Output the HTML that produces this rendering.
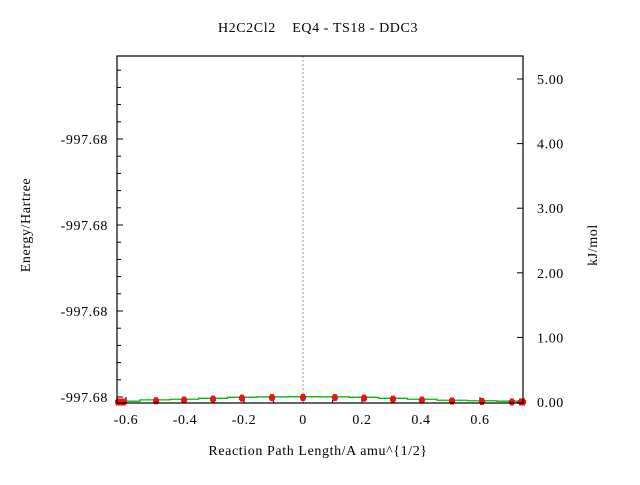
<!DOCTYPE html>
<html><head><meta charset="utf-8"><style>
body{margin:0;background:#fff}
svg text{font-family:"Liberation Serif",serif;font-size:14px;fill:#000;letter-spacing:0.6px}
</style></head><body>
<svg width="640" height="480">
<rect width="640" height="480" fill="#fff"/>
<text x="318" y="32" text-anchor="middle" style="white-space:pre" xml:space="preserve">H2C2Cl2    EQ4 - TS18 - DDC3</text>
<g id="axes"></g>
<g id="marks"></g>
<rect x="117" y="56" width="406" height="347" fill="none" stroke="#000" stroke-width="1.2"/>
<text transform="translate(30,225) rotate(-90)" text-anchor="middle">Energy/Hartree</text>
<text transform="translate(597,245) rotate(-90)" text-anchor="middle">kJ/mol</text>
<text x="318" y="455" text-anchor="middle">Reaction Path Length/A amu^{1/2}</text>
</svg>
<script>
const xs=[-0.627,-0.617,-0.607,-0.498,-0.403,-0.305,-0.207,-0.105,0,0.108,0.207,0.305,0.403,0.505,0.607,0.708,0.739,0.746];
const es=[0,0,0,0.02,0.03,0.045,0.06,0.068,0.07,0.068,0.06,0.045,0.03,0.015,0.007,0,0,0];
const xTicks=[-0.6,-0.4,-0.2,0,0.2,0.4,0.6];
const xTickLabels=["-0.6","-0.4","-0.2","0","0.2","0.4","0.6"];
const y2Ticks=[0,1,2,3,4,5];
const y2Labels=["0.00","1.00","2.00","3.00","4.00","5.00"];
const yLabels=["-997.68","-997.68","-997.68","-997.68"];
const NS="http://www.w3.org/2000/svg";
const X=v=>303+v*295, Y=v=>402-v*64.6;
const ax=document.getElementById('axes'), mk=document.getElementById('marks');
function el(t,a,p){const e=document.createElementNS(NS,t);for(const k in a)e.setAttribute(k,a[k]);p.appendChild(e);return e;}
for(let i=0;i<xTicks.length;i++){
 const x=X(xTicks[i]);
 const l=el('line',{x1:x,x2:x,y1:403,y2:397,stroke:'#000'},ax);
 
 
 const t=el('text',{x:x,y:424,'text-anchor':'middle'},ax);t.textContent=xTickLabels[i];
 
 
}
for(let v=-0.6;v<0.75;v+=0.1){const x=X(v);if(x<118||x>522)continue;el('line',{x1:x,x2:x,y1:403,y2:400,stroke:'#000'},ax);}
for(let i=0;i<20;i++){const y=397-i*17.2;if(y<58)break;el('line',{x1:117,x2:(i%5==0?123:121),y1:y,y2:y,stroke:'#000'},ax);}
for(let i=0;i<yLabels.length;i++){
 const t=el('text',{x:108,y:397-i*86+5,'text-anchor':'end'},ax);t.textContent=yLabels[i];
 
 
}
for(let i=0;i<y2Ticks.length;i++){
 const y=Y(y2Ticks[i]);
 el('line',{x1:523,x2:517,y1:y,y2:y,stroke:'#000'},ax);
 const t=el('text',{x:537,y:y+5},ax);t.textContent=y2Labels[i];
 
 
}
const zl=el('line',{x1:X(0),x2:X(0),y1:56,y2:403,stroke:'#999','stroke-dasharray':'2,2'},ax);


let d='';
for(let i=0;i<xs.length;i++){
 const a=i==0?xs[0]:(xs[i-1]+xs[i])/2, b=i==xs.length-1?xs[i]:(xs[i]+xs[i+1])/2;
 d+=(i==0?'M':'L')+X(a)+','+(Y(es[i])-0.8)+'L'+X(b)+','+(Y(es[i])-0.8);
}
const g=el('path',{d:d,fill:'none',stroke:'#00bb00','stroke-width':1.3},mk);


for(let i=0;i<xs.length;i++){
 const cx=X(xs[i]), cy=Y(es[i]);
 const p=el('path',{d:`M${cx-3},${cy-2}h6v4h-6zM${cx-2},${cy-3.5}h4v7h-4z`,fill:'#ee1111'},mk);
 
 
}
</script>
</body></html>
